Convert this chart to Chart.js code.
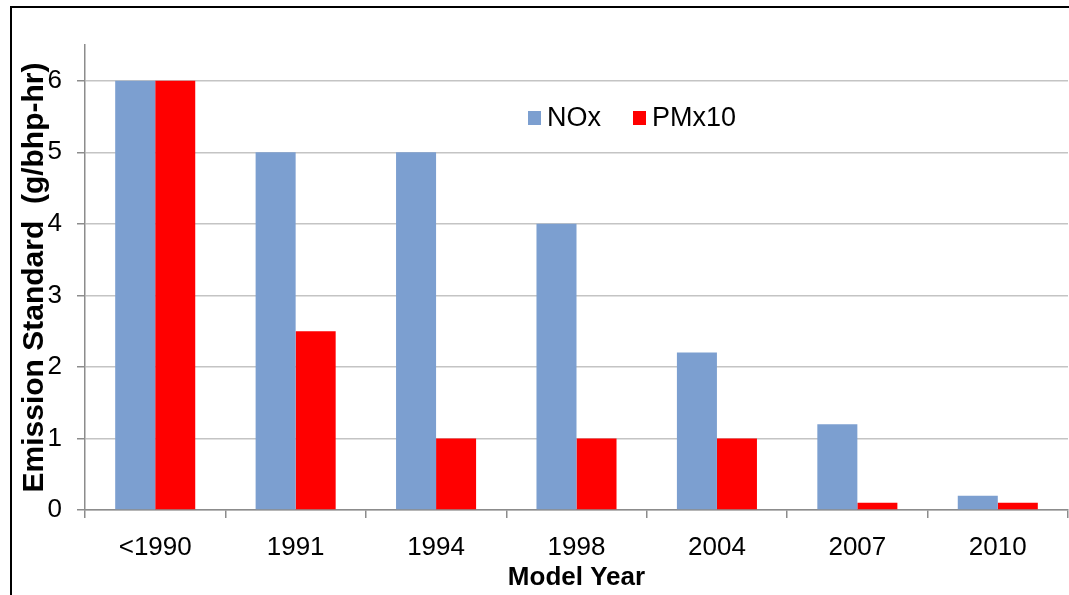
<!DOCTYPE html>
<html>
<head>
<meta charset="utf-8">
<script src="https://cdn.jsdelivr.net/npm/chart.js@4.4.0/dist/chart.umd.min.js"></script>
<style>
    html, body { margin: 0; padding: 0; background: #ffffff; }
    #wrap { position: relative; width: 1069px; height: 595px; overflow: hidden; }
    #frame {
        position: absolute; left: 10px; top: 6px; right: 0; bottom: 0;
        border-top: 2px solid #000; border-left: 2px solid #000;
        pointer-events: none;
    }
    canvas { position: absolute; left: 0; top: 0; }
</style>
</head>
<body>
<div id="wrap">
    <canvas id="emissionChart" width="1069" height="595"></canvas>
    <div id="frame"></div>
</div>
<script>
const modelYears = ['<1990', '1991', '1994', '1998', '2004', '2007', '2010'];
const noxValues = [6, 5, 5, 4, 2.2, 1.2, 0.2];
const pmValues = [6, 2.5, 1, 1, 1, 0.1, 0.1];

const FONT = "'Liberation Sans', Arial, sans-serif";
const NOX_COLOR = '#7c9fd0';
const PM_COLOR = '#ff0000';

// legend drawn inside the plot area, like the original
const innerLegend = {
    id: 'innerLegend',
    afterDraw(chart) {
        const ctx = chart.ctx;
        const area = chart.chartArea;
        let x = area.left + 443;
        const y = area.top + 73;
        ctx.save();
        ctx.font = '27px ' + FONT;
        ctx.textBaseline = 'middle';
        chart.data.datasets.forEach((ds) => {
            ctx.fillStyle = ds.backgroundColor;
            ctx.fillRect(x, y - 7, 13, 14);
            ctx.fillStyle = '#000';
            ctx.fillText(ds.label, x + 19, y + 1);
            x += 19 + ctx.measureText(ds.label).width + 32;
        });
        ctx.restore();
    }
};

new Chart(document.getElementById('emissionChart'), {
    type: 'bar',
    data: {
        labels: modelYears,
        datasets: [
            { label: 'NOx', data: noxValues, backgroundColor: NOX_COLOR },
            { label: 'PMx10', data: pmValues, backgroundColor: PM_COLOR }
        ]
    },
    options: {
        responsive: false,
        animation: false,
        layout: { padding: { top: 45, right: 1, left: 0, bottom: 0 } },
        datasets: { bar: { categoryPercentage: 0.57, barPercentage: 1.0 } },
        plugins: {
            legend: { display: false },
            tooltip: { enabled: false }
        },
        scales: {
            y: {
                min: 0,
                max: 6.5,
                ticks: {
                    stepSize: 1,
                    includeBounds: false,
                    color: '#000',
                    font: { family: FONT, size: 26 },
                    padding: 15
                },
                grid: { color: '#c4c4c4', lineWidth: 1.5, tickLength: 8, tickColor: '#8c8c8c' },
                border: { color: '#8c8c8c', width: 1.5 },
                title: {
                    display: true,
                    text: 'Emission Standard  (g/bhp-hr)',
                    color: '#000',
                    font: { family: FONT, size: 30, weight: 'bold' },
                    padding: { top: 17, bottom: 0 }
                },
                afterFit: (scale) => { scale.width = 85; }
            },
            x: {
                ticks: {
                    color: '#000',
                    font: { family: FONT, size: 26 },
                    padding: 14
                },
                grid: { display: true, drawOnChartArea: false, offset: true, tickLength: 8, color: '#8c8c8c', lineWidth: 1.5 },
                border: { color: '#8c8c8c', width: 1.5 },
                title: {
                    display: true,
                    text: 'Model Year',
                    color: '#000',
                    font: { family: FONT, size: 26, weight: 'bold' },
                    padding: { top: 0, bottom: 2 }
                },
                afterFit: (scale) => { scale.height = 85; }
            }
        }
    },
    plugins: [innerLegend]
});
</script>
</body>
</html>
